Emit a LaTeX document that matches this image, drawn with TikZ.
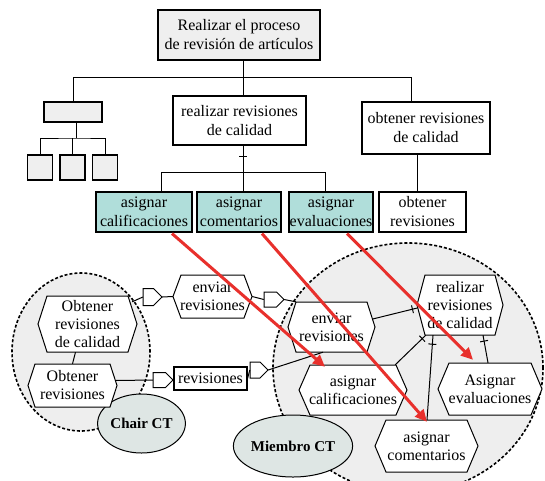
\documentclass[tikz,border=0pt]{standalone}
\usepackage{fontspec}
\setmainfont{Liberation Serif}
\usetikzlibrary{arrows.meta,calc,shapes.geometric,decorations.markings}

\definecolor{boxgray}{RGB}{239,239,239}
\definecolor{scopegray}{RGB}{238,238,238}
\definecolor{rolefill}{RGB}{222,230,228}
\definecolor{tealfill}{RGB}{176,222,218}
\definecolor{flowred}{RGB}{232,48,44}

\newcommand\diagfont{\fontsize{16}{19}\selectfont}
\newcommand\hexfont{\fontsize{16}{18}\selectfont}

\tikzset{
  box/.style={draw, line width=1.1pt, inner sep=0pt, align=center, font=\diagfont, fill=white},
  graybox/.style={box, fill=boxgray},
  tealbox/.style={box, fill=tealfill},
  link/.style={line width=1pt},
  hexline/.style={draw, fill=white, line width=1pt, line join=miter},
  hexlabel/.style={inner sep=0pt, align=center, font=\hexfont},
  scopering/.style={ellipse, draw, dash pattern=on 3pt off 2pt, line width=1.6pt, fill=scopegray, inner sep=0pt},
  role/.style={ellipse, draw, line width=1pt, fill=rolefill, inner sep=0pt,
    font=\fontsize{15}{17}\selectfont\bfseries},
  barred/.style={postaction={decorate}, decoration={markings,
    mark=at position #1 with {\draw[line width=1pt] (0pt,-4pt) -- (0pt,4pt);}}},
  trace/.style={draw=flowred, line width=3pt, -{Triangle[length=12pt,width=11pt]}},
}

% hexagon with pointed left and right ends: name, cx, cy, width, height, inset, text
\newcommand\hexshape[7]{%
  \filldraw[hexline] ({#2-#4/2},#3) -- ({#2-#4/2+#6},{#3-#5/2}) -- ({#2+#4/2-#6},{#3-#5/2})
    -- ({#2+#4/2},#3) -- ({#2+#4/2-#6},{#3+#5/2}) -- ({#2-#4/2+#6},{#3+#5/2}) -- cycle;
  \node[hexlabel, minimum width=#4, minimum height=#5] (#1) at (#2,#3) {#7};
}
% small flow tag pointing right: name, cx, cy, width, height
\newcommand\flowtagshape[5]{%
  \filldraw[hexline] ({#2-#4/2},{#3-#5/2}) -- ({#2+#4/2-#5/2},{#3-#5/2}) -- ({#2+#4/2},#3)
    -- ({#2+#4/2-#5/2},{#3+#5/2}) -- ({#2-#4/2},{#3+#5/2}) -- cycle;
  \node[inner sep=0pt, minimum width=#4, minimum height=#5] (#1) at (#2,#3) {};
}

\begin{document}
\begin{tikzpicture}[x=1pt, y=-1pt]
\useasboundingbox[fill=white] (0,0) rectangle (545,480);

% ---------- decomposition tree ----------
\node[graybox, minimum width=162, minimum height=50] (top) at (239,35)
  {Realizar el proceso\\de revisión de artículos};
\node[graybox, minimum width=58, minimum height=20] (lg) at (73,112) {};
\node[graybox, minimum width=25, minimum height=25] (s1) at (40,167.5) {};
\node[graybox, minimum width=25, minimum height=25] (s2) at (72.5,167.5) {};
\node[graybox, minimum width=25, minimum height=25] (s3) at (105,167.5) {};
\node[box, minimum width=133, minimum height=49] (mid) at (239.5,120.5)
  {realizar revisiones\\de calidad};
\node[box, minimum width=128, minimum height=52] (rq) at (426,128)
  {obtener revisiones\\de calidad};
\node[tealbox, minimum width=96, minimum height=40] (cal) at (144,212) {asignar\\calificaciones};
\node[tealbox, minimum width=84, minimum height=40] (com) at (239,212) {asignar\\comentarios};
\node[tealbox, minimum width=84, minimum height=40] (eva) at (331,212) {asignar\\evaluaciones};
\node[box, minimum width=87, minimum height=40] (obt) at (422.5,212) {obtener\\revisiones};

\coordinate (j0) at (243,77);
\coordinate (j1) at (411,77);
\draw[link] (top.south -| j0) -- (j0);
\draw[link] (lg.north) |- (j1) -- (j1 |- rq.north);
\draw[link] (j0) -- (j0 |- mid.north);

\coordinate (k0) at (76,138);
\draw[link] (lg.south -| k0) -- (k0);
\draw[link] (s1.north) |- (k0) -| (s3.north);
\draw[link] (s2.north) -- (s2.north |- k0);

\coordinate (b0) at (243,172);
\coordinate (b1) at (161,172);
\coordinate (b3) at (325,172);
\draw[link, barred=11pt] (mid.south -| b0) -- (b0);
\draw[link] (b1) -- (b3);
\draw[link] (b1) -- (b1 |- cal.north);
\draw[link] (b0) -- (b0 |- com.north);
\draw[link] (b3) -- (b3 |- eva.north);
\draw[link] (rq.south -| 417,0) -- (obt.north -| 417,0);

% ---------- role scopes ----------
\node[scopering, minimum width=138, minimum height=158] (chairscope) at (81,352) {};
\node[scopering, minimum width=270, minimum height=250] (memberscope) at (408,368) {};
\node[role, minimum width=71, minimum height=59] (chair) at (141.5,423.5) {Chair CT};
\node[role, minimum width=86, minimum height=62] (member) at (293,446) {Miembro CT};

% activities of the chair
\hexshape{oqc}{87.5}{324}{99}{56}{9}{Obtener\\revisiones\\de calidad}
\hexshape{orv}{72.5}{385.5}{89}{43}{7}{Obtener\\revisiones}

% exchanged items
\hexshape{env1}{212.5}{296.5}{79}{43}{8}{enviar\\revisiones}
\node[box, minimum width=73, minimum height=23] (rev) at (210.5,378.5) {revisiones};
\flowtagshape{p1}{152.5}{297}{19}{17}
\flowtagshape{p2}{274}{299.5}{20}{15}
\flowtagshape{p3}{259}{370}{18}{16}
\flowtagshape{p4}{163}{380}{20}{15}

% activities of the members
\hexshape{env2}{331.5}{327}{87}{50}{8}{enviar\\revisiones}
\hexshape{rrc}{460}{305}{86}{60}{8}{realizar\\revisiones\\de calidad}
\hexshape{acal}{353}{390}{108}{50}{11}{asignar\\calificaciones}
\hexshape{aeva}{490}{389}{104}{52}{11}{Asignar\\evaluaciones}
\hexshape{acom}{426.5}{446}{103}{52}{11}{asignar\\comentarios}

% chair side links
\draw[link] ($(oqc.south)+(-12,0)$) -- (orv.north);
\draw[link] ($(oqc.north east)+(-5,6)$) -- (p1.west);
\draw[link] (p1.east) -- (env1.west);
\draw[link] (env1.east) -- (p2.west);
\draw[link] (p2.east) -- ($(env2.north west)+(8,0)$);
\draw[link] ($(orv.east)+(-2,-5)$) -- (p4.west);
\draw[link] (p4.east) -- (rev.west);
\draw[link] (rev.east) -- (p3.west);
\draw[link] (p3.east) -- ($(env2.south)+(-8.5,0)$);

% member side links
\draw[link, barred=5pt] ($(rrc.west)+(0.5,3)$) -- ($(env2.east)+(-2.5,-8)$);
\draw[link, barred=5pt] ($(rrc.south west)+(9,0)$) -- ($(acal.north east)+(-12,0)$);
\draw[link, barred=9pt] ($(rrc.south)+(-27,0)$) -- ($(acom.north)+(0.5,0)$);
\draw[link, barred=6pt] ($(rrc.south)+(23,0)$) -- ($(aeva.north)+(-2,0)$);

% traces from the tree to the role activities
\draw[trace] ($(cal.south)+(28,1)$) -- ($(acal.north)+(-28,2)$);
\draw[trace] ($(com.south)+(23,1)$) -- ($(acom.north)+(0.5,2)$);
\draw[trace] ($(eva.south)+(16,1)$) -- ($(aeva.north)+(-17,-3)$);
\end{tikzpicture}
\end{document}
